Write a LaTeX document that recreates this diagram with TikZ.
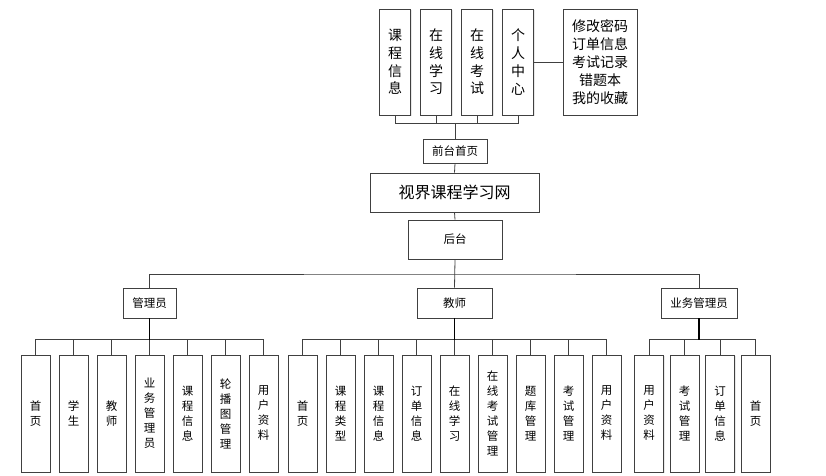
\documentclass[tikz,border=0pt]{standalone}
\usepackage{fontspec}
\newfontfamily\cjk{Noto Sans CJK SC}
\usetikzlibrary{positioning, shadows}
\tikzset{
	box/.style    ={rectangle, draw=black!75, line width=0.8pt, fill=white, align=center, inner sep=1pt, drop shadow={opacity=0.18, shadow xshift=1.2pt, shadow yshift=-1.2pt}},
	topbox/.style ={box, minimum width=31pt, minimum height=106pt, font=\cjk\fontsize{14}{17.7}\selectfont},
	midbox/.style ={box, minimum height=30pt, font=\cjk\fontsize{11.5}{14}\selectfont},
	leaf/.style   ={box, minimum width=29pt, minimum height=117pt, font=\cjk\fontsize{11.5}{15}\selectfont},
	wire/.style   ={draw=black!75, line width=0.8pt},
	trunk/.style  ={draw=black, line width=1.3pt},
}
\begin{document}
\begin{tikzpicture}[x=1pt, y=-1pt]
	\useasboundingbox (0,0) rectangle (826,475);
	% front end
	\foreach \lbl [count=\i] in {课\\程\\信\\息, 在\\线\\学\\习, 在\\线\\考\\试, 个\\人\\中\\心}
		\node[topbox] (qt-\i) at ({395+41*(\i-1)}, 62) {\lbl};
	\node[topbox, minimum width=74pt, font=\cjk\fontsize{14}{18}\selectfont] (grzx) at (600,62) {修改密码\\订单信息\\考试记录\\错题本\\我的收藏};
	\node[midbox, minimum width=64pt, minimum height=24pt] (qtsy) at (455,151) {前台首页};
	\node[midbox, minimum width=169pt, minimum height=39pt, font=\cjk\fontsize{16}{18}\selectfont] (site) at (454.5,192.5) {视界课程学习网};
	\node[midbox, minimum width=94pt, minimum height=39pt] (ht) at (455,239.5) {后台};
	% roles
	\node[midbox, minimum width=53pt] (gly) at (149.5,303) {管理员};
	\node[midbox, minimum width=75pt] (jsh) at (454.5,303) {教师};
	\node[midbox, minimum width=76pt] (ywg) at (699,303) {业务管理员};
	% front end wiring
	\coordinate (busQ) at (455,123);
	\foreach \i in {1,...,4}
		\draw[wire] (qt-\i.south) |- (busQ);
	\draw[wire] (busQ) -- (qtsy.north);
	\draw[wire] (qt-4.east) -- (grzx.west);
	\draw[wire] (qtsy.south) -- (site.north);
	\draw[wire] (site.south) -- (ht.north);
	\coordinate (busH) at (455,274);
	\draw[wire] (ht.south) -- (jsh.north);
	\draw[wire] (gly.north) |- (busH) -| (ywg.north);
	% leaves
	\foreach \lbl [count=\i] in {首\\页, 学\\生, 教\\师, 业\\务\\管\\理\\员, 课\\程\\信\\息, 轮\\播\\图\\管\\理, 用\\户\\资\\料} {
		\node[leaf] (gly-\i) at ({35.5+38*(\i-1)}, 413.5) {\lbl};
		\draw[wire] (gly-\i.north) -- ++(0,-15) -| (gly.south);
	}
	\foreach \lbl [count=\i] in {首\\页, 课\\程\\类\\型, 课\\程\\信\\息, 订\\单\\信\\息, 在\\线\\学\\习, 在\\线\\考\\试\\管\\理, 题\\库\\管\\理, 考\\试\\管\\理, 用\\户\\资\\料} {
		\node[leaf] (jsh-\i) at ({302.5+38*(\i-1)}, 413.5) {\lbl};
		\draw[wire] (jsh-\i.north) -- ++(0,-15) -| (jsh.south);
	}
	\foreach \lbl [count=\i] in {用\\户\\资\\料, 考\\试\\管\\理, 订\\单\\信\\息, 首\\页} {
		\node[leaf] (ywg-\i) at ({649+35.5*(\i-1)}, 413.5) {\lbl};
		\draw[wire] (ywg-\i.north) -- ++(0,-15) -| (ywg.south);
	}
	\foreach \n in {gly, jsh, ywg}
		\draw[trunk] (\n.south) -- ++(0,22);
\end{tikzpicture}
\end{document}
